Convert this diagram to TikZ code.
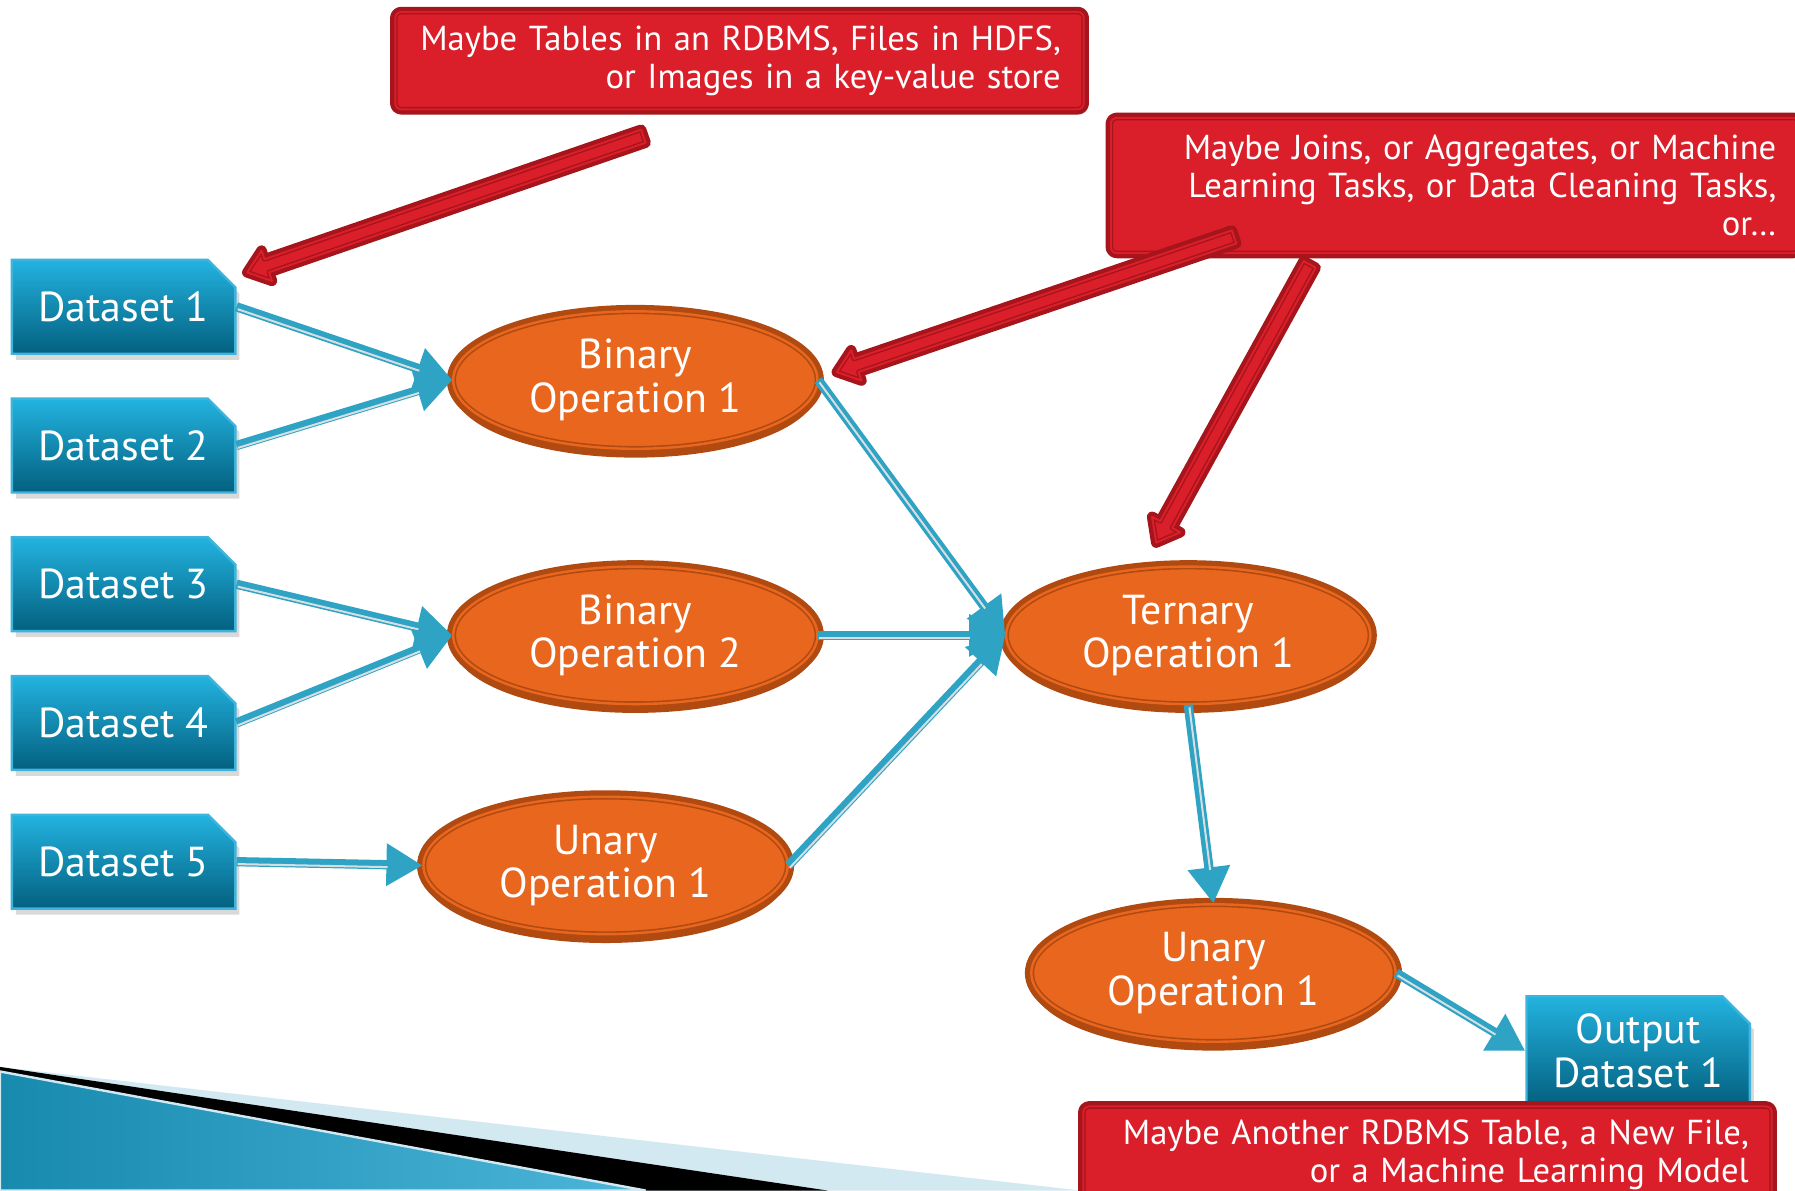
\documentclass[tikz,border=0pt]{standalone}
\usepackage{fontspec}
\setmainfont{PT Sans}
\usetikzlibrary{calc,arrows.meta,positioning,shapes.geometric,shapes.misc,shadows}
\definecolor{dstop}{HTML}{23B3E0}
\definecolor{dsbot}{HTML}{03607F}
\definecolor{dsedge}{HTML}{3DB4DC}
\definecolor{opfill}{HTML}{E9661F}
\definecolor{opedge}{HTML}{B04A10}
\definecolor{notefill}{HTML}{DA1F2A}
\definecolor{noteedge}{HTML}{A6141C}
\definecolor{flowblue}{HTML}{2EA3C4}
\definecolor{flowstripe}{HTML}{D6DEE2}
\definecolor{cornerpale}{HTML}{D3E9F1}
\definecolor{cornerdark}{HTML}{178AAE}
\definecolor{cornerlight}{HTML}{4DB6DA}
\newcommand{\CalloutArrow}[2]% #1=tail, #2=tip
{\coordinate (tmph) at ($(#2)!0.18cm!(#1)$);
 \draw[callout] ($(#1)!0.06cm!90:(#2)$) -- ($(tmph)!0.06cm!90:(#2)$)
   -- ($(tmph)!0.14cm!90:(#2)$) -- (#2)
   -- ($(tmph)!0.14cm!-90:(#2)$) -- ($(tmph)!0.06cm!-90:(#2)$)
   -- ($(#1)!0.06cm!-90:(#2)$) -- cycle;
}
\begin{document}
\begin{tikzpicture}[x=0.01cm, y=-0.01cm,
 callout/.style={fill=notefill, preaction={draw=noteedge, line width=2.6pt, line join=round},
   draw=noteedge, line width=0.35pt, double=notefill, double distance=0.5pt, line join=round},
 dsbox/.style={chamfered rectangle, chamfered rectangle corners=north east,
   chamfered rectangle xsep=0.12cm, chamfered rectangle ysep=0.12cm,
   minimum width=1.95cm, minimum height=0.82cm, inner sep=1pt,
   top color=dstop, bottom color=dsbot, draw=dsedge, line width=0.6pt,
   text=white, align=center, font=\fontsize{10.4}{10.8}\selectfont,
   drop shadow={shadow xshift=1pt, shadow yshift=-1.5pt, opacity=0.3}},
 opnode/.style={ellipse, minimum width=3.18cm, minimum height=1.2cm, inner sep=0pt,
   drop shadow={shadow xshift=0pt, shadow yshift=-2.2pt, fill=opedge, opacity=1},
   preaction={draw=opedge, line width=3.2pt},
   fill=opfill, draw=opedge, line width=0.4pt, double=opfill, double distance=0.6pt,
   text=white, align=center, font=\fontsize{10.4}{10.8}\selectfont},
 notebox/.style={rectangle, callout, rounded corners=1.5pt, minimum height=0.85cm,
   text width=5.61cm, inner xsep=0.2cm, align=right, text=white,
   font=\fontsize{8.6}{9.4}\selectfont},
 flow/.style={draw=flowblue, line width=2.3pt, -{Triangle[length=9pt,width=10pt]},
   postaction={draw=flowstripe, line width=0.5pt, shorten >=9pt, -,
     transform canvas={shift={(0.3pt,-0.6pt)}}}}]

    \useasboundingbox (0,0) rectangle (1568,1040);
    \clip (0,0) rectangle (1568,1040);

    % corner decoration
    \fill[cornerpale] (0,932) -- (944,1040) -- (0,1040) -- cycle;
    \fill[black] (0,932) -- (723,1040) -- (0,1040) -- cycle;
    \shade[left color=cornerdark, right color=cornerlight, draw=cornerpale, line width=0.6pt]
      (0,936) -- (564,1040) -- (0,1040) -- cycle;

    % datasets
    \node[dsbox] (ds1) at (108,268) {Dataset 1};
    \node[dsbox, below=0.37cm of ds1] (ds2) {Dataset 2};
    \node[dsbox, below=0.37cm of ds2] (ds3) {Dataset 3};
    \node[dsbox, below=0.37cm of ds3] (ds4) {Dataset 4};
    \node[dsbox, below=0.37cm of ds4] (ds5) {Dataset 5};

    % operations
    \node[opnode] (bin1) at (555,332) {Binary\\Operation 1};
    \node[opnode] (bin2) at (555,555) {Binary\\Operation 2};
    \node[opnode] (un1) at (529,756) {Unary\\Operation 1};
    \node[opnode] (tern) at (1038,555) {Ternary\\Operation 1};
    \node[opnode] (un2) at (1060,850) {Unary\\Operation 1};

    \node[dsbox] (out) at (1431,918) {Output\\Dataset 1};

    % notes
    \node[notebox] (note1) at (646,53)
      {Maybe Tables in an RDBMS, Files in HDFS,\\or Images in a key-value store};
    \node[notebox, minimum height=1.18cm] (note2) at (1271,162)
      {Maybe Joins, or Aggregates, or Machine\\Learning Tasks, or Data Cleaning Tasks,\\or\dots};
    \node[notebox] (note3) at (1247,1009)
      {Maybe Another RDBMS Table, a New File,\\or a Machine Learning Model};

    % flows
    \draw[flow] (ds1.east) -- (bin1.west);
    \draw[flow] (ds2.east) -- (bin1.west);
    \draw[flow] (ds3.east) -- (bin2.west);
    \draw[flow] (ds4.east) -- (bin2.west);
    \draw[flow] (ds5.east) -- (un1.west);
    \draw[flow] (bin1.east) -- (tern.west);
    \draw[flow] (bin2.east) -- (tern.west);
    \draw[flow] (un1.east) -- (tern.west);
    \draw[flow] (tern.south) -- (un2.north);
    \draw[flow] (un2.east) -- (out.west);

    % callout arrows
    \coordinate (c1tail) at (562,119);
    \coordinate (c1tip) at (216,238);
    \coordinate (c2tail) at (1078,207);
    \coordinate (c2tip) at (731,325);
    \coordinate (c3tail) at (1144,231);
    \coordinate (c3tip) at (1010,474);

    \CalloutArrow{c1tail}{c1tip}
    \CalloutArrow{c2tail}{c2tip}
    \CalloutArrow{c3tail}{c3tip}

\end{tikzpicture}
\end{document}
